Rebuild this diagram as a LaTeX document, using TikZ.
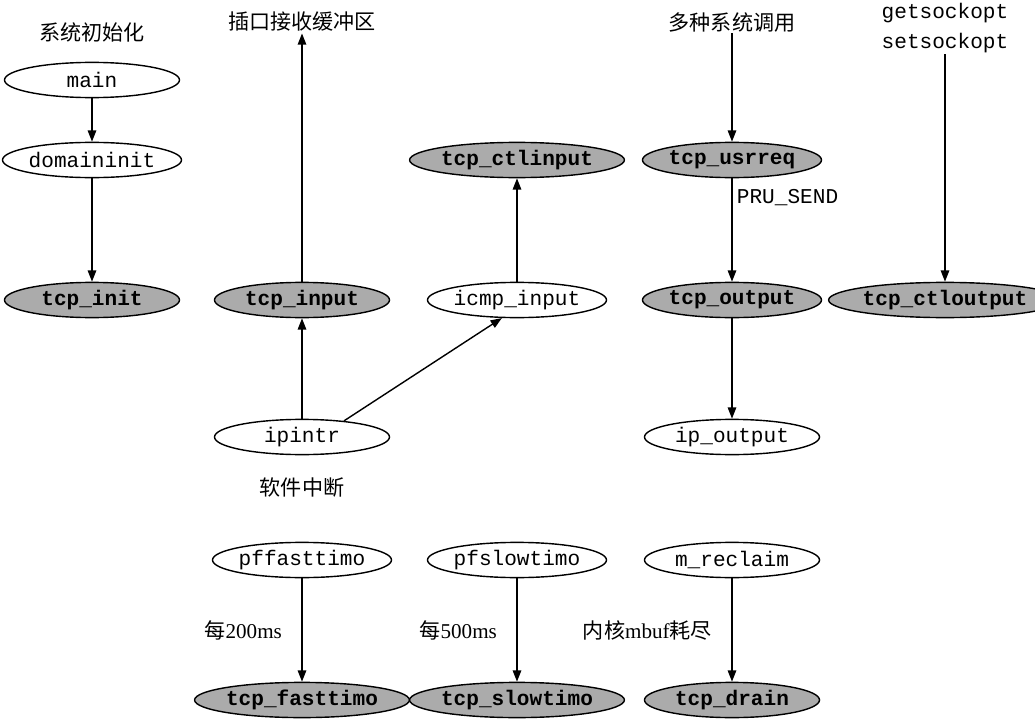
\documentclass[tikz,border=0pt]{standalone}
\usepackage{fontspec}
\setmainfont{Liberation Serif}
\setmonofont{Liberation Mono}
\newfontfamily\cjk{Noto Sans CJK SC}
\usetikzlibrary{arrows.meta, positioning, shapes.geometric}

\tikzset{
  fn/.style={ellipse, draw, line width=1pt, minimum width=4.375cm,
             minimum height=0.88cm, inner sep=0pt,
             font=\fontsize{15}{18}\selectfont\ttfamily},
  tcpfn/.style={fn, fill=black!33,
             font=\fontsize{15}{18}\selectfont\ttfamily\bfseries},
  note/.style={font=\fontsize{15}{18}\selectfont, inner sep=1pt},
  call/.style={-{Triangle[length=8pt,width=6pt]}, line width=1pt},
}

\begin{document}
\begin{tikzpicture}[x=0.025cm, y=-0.025cm]
  \useasboundingbox (0,0) rectangle (1035,723);

  % System initialisation
  \node[note] (sysinit) at (92,32) {\cjk 系统初始化};
  \node[fn] (main) at (92,80) {main};
  \node[fn] (domaininit) at (92,160) {domaininit};
  \node[tcpfn] (tcpinit) at (92,300) {tcp\_init};
  \draw[call] (main) -- (domaininit);
  \draw[call] (domaininit) -- (tcpinit);

  % Input path (software interrupt)
  \node[note] (sockbuf) at (302,22) {\cjk 插口接收缓冲区};
  \node[tcpfn] (tcpinput) at (302,300) {tcp\_input};
  \node[fn] (ipintr) at (302,437) {ipintr};
  \node[note] (softint) at (302,488) {\cjk 软件中断};
  \node[fn] (icmpinput) at (517,300) {icmp\_input};
  \node[tcpfn] (tcpctlinput) at (517,160) {tcp\_ctlinput};
  \draw[call] (ipintr) -- (tcpinput);
  \draw[call] (tcpinput) -- (sockbuf);
  \draw[call] (ipintr.21) -- (icmpinput.230);
  \draw[call] (icmpinput) -- (tcpctlinput);

  % Output path (system calls)
  \node[note] (syscalls) at (732,22) {\cjk 多种系统调用};
  \node[tcpfn] (tcpusrreq) at (732,160) {tcp\_usrreq};
  \node[tcpfn] (tcpoutput) at (732,300) {tcp\_output};
  \node[fn] (ipoutput) at (732,437) {ip\_output};
  \draw[call] (syscalls) -- (tcpusrreq);
  \draw[call] (tcpusrreq) -- node[pos=0.19, right, inner sep=3pt,
      font=\fontsize{15}{18}\selectfont\ttfamily] {PRU\_SEND} (tcpoutput);
  \draw[call] (tcpoutput) -- (ipoutput);

  % Socket options
  \node[note, align=center, font=\fontsize{15}{21}\selectfont\ttfamily]
       (sockopt) at (945,28) {getsockopt\\setsockopt};
  \node[tcpfn] (tcpctloutput) at (945,300) {tcp\_ctloutput};
  \draw[call] (sockopt) -- (tcpctloutput);

  % Timers and mbuf shortage
  \node[fn] (pffast) at (302,560) {pffasttimo};
  \node[tcpfn] (tcpfast) at (302,700) {tcp\_fasttimo};
  \node[fn] (pfslow) at (517,560) {pfslowtimo};
  \node[tcpfn] (tcpslow) at (517,700) {tcp\_slowtimo};
  \node[fn] (mreclaim) at (732,560) {m\_reclaim};
  \node[tcpfn] (tcpdrain) at (732,700) {tcp\_drain};
  \draw[call] (pffast) -- node[note, left=0.45cm] {{\cjk 每}200ms} (tcpfast);
  \draw[call] (pfslow) -- node[note, left=0.45cm] {{\cjk 每}500ms} (tcpslow);
  \draw[call] (mreclaim) -- node[note, left=0.45cm] {{\cjk 内核}mbuf{\cjk 耗尽}} (tcpdrain);
\end{tikzpicture}
\end{document}
